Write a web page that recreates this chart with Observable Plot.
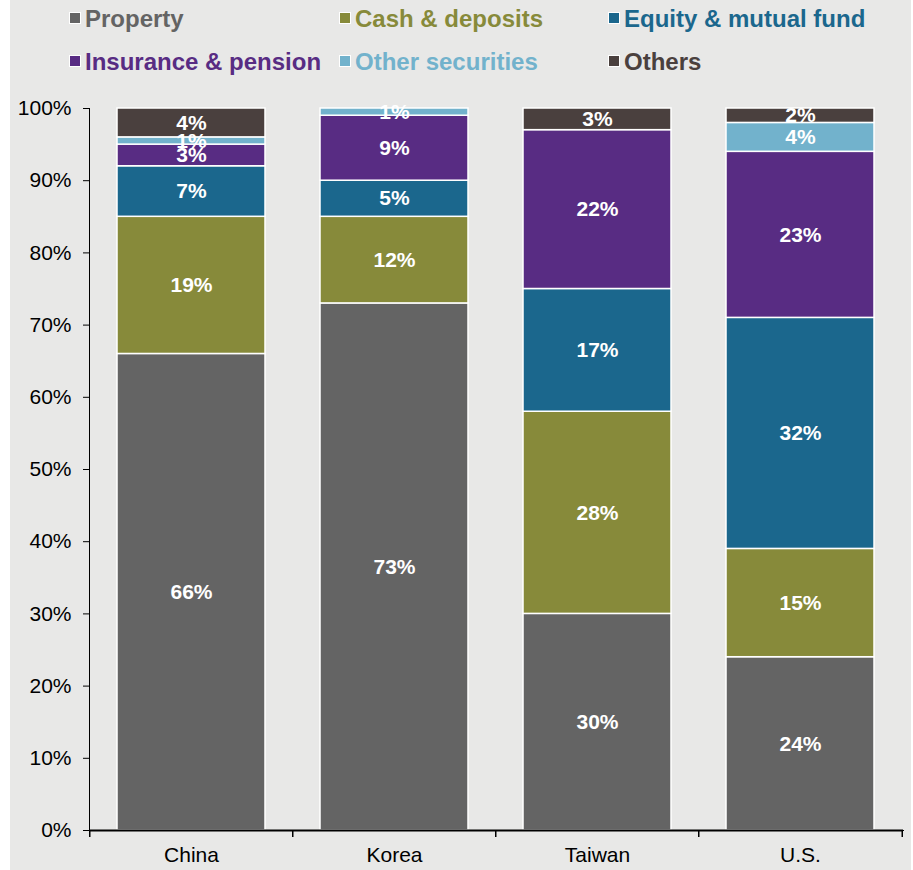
<!DOCTYPE html>
<html><head><meta charset="utf-8">
<script src="https://cdn.jsdelivr.net/npm/d3@7"></script>
<script src="https://cdn.jsdelivr.net/npm/@observablehq/plot@0.6"></script>
<style>
body{margin:0;background:#fff;}
#wrap{position:absolute;left:10px;top:0;width:901px;height:870px;background:#e8e8e7;font-family:"Liberation Sans",Arial,sans-serif;}
#legend{position:relative;height:86px;}
.item{position:absolute;display:flex;align-items:center;font-weight:bold;font-size:24px;line-height:27px;white-space:nowrap;}
.sw{width:10px;height:10px;border:1.5px solid #fff;margin-right:4px;}
#chart svg{display:block;}
</style></head><body><div id="wrap"><div id="legend"></div><div id="chart"></div></div>
<script>
const categories = ["China", "Korea", "Taiwan", "U.S."];
const seriesNames = ["Property", "Cash & deposits", "Equity & mutual fund", "Insurance & pension", "Other securities", "Others"];
const property  = [66, 73, 30, 24];
const cash      = [19, 12, 28, 15];
const equity    = [7, 5, 17, 32];
const insurance = [3, 9, 22, 23];
const otherSec  = [1, 1, 0, 4];
const others    = [4, 0, 3, 2];
const yTicks = [0, 10, 20, 30, 40, 50, 60, 70, 80, 90, 100];
const colors = ["#646464", "#878a3a", "#1b678d", "#582c83", "#72b2cc", "#4a403e"];

const seriesValues = [property, cash, equity, insurance, otherSec, others];
const table = [];
categories.forEach((cat, i) => {
  let cum = 0;
  seriesNames.forEach((s, j) => {
    const v = seriesValues[j][i];
    table.push({cat, series: s, value: v, mid: cum + v / 2});
    cum += v;
  });
});
const nonZero = table.filter(d => d.value > 0);

// legend
const legendPos = [[59, 4.5], [329, 4.5], [598, 4.5], [59, 47.5], [329, 47.5], [598, 47.5]];
const legend = document.getElementById("legend");
seriesNames.forEach((s, j) => {
  const it = document.createElement("div");
  it.className = "item";
  it.style.left = legendPos[j][0] + "px";
  it.style.top = legendPos[j][1] + "px";
  it.style.color = colors[j];
  const sw = document.createElement("span");
  sw.className = "sw";
  sw.style.background = colors[j];
  it.appendChild(sw);
  it.appendChild(document.createTextNode(s));
  legend.appendChild(it);
});

const W = 901, H = 784, mL = 79, mR = 8, mT = 22, mB = 40;
const step = (W - mL - mR) / categories.length;

const chart = Plot.plot({
  width: W, height: H,
  marginTop: mT, marginBottom: mB, marginLeft: mL, marginRight: mR,
  style: {background: "transparent", fontFamily: "'Liberation Sans', Arial, sans-serif", fontSize: "21px", color: "#000", overflow: "visible"},
  x: {domain: categories, paddingInner: 0.27, paddingOuter: 0.135, label: null, tickSize: 0, tickPadding: 17, line: true},
  y: {domain: [0, 100], ticks: yTicks, tickFormat: d => d + "%", label: null, tickSize: 6, tickPadding: 12, line: true},
  color: {domain: seriesNames, range: colors},
  marks: [
    Plot.barY(nonZero, Plot.stackY({x: "cat", y: "value", fill: "series", order: seriesNames, stroke: "white", strokeWidth: 1.5})),
    Plot.text(nonZero, {x: "cat", y: "mid", text: d => d.value + "%", fill: "white", fontWeight: "bold", fontSize: 21}),
    Plot.ruleX(categories, {x: d => d, y1: 0, y2: 0, insetBottom: -7, dx: -step / 2, stroke: "black", strokeWidth: 1.5}),
    Plot.ruleX(categories.slice(-1), {x: d => d, y1: 0, y2: 0, insetBottom: -7, dx: step / 2, stroke: "black", strokeWidth: 1.5}),
    Plot.ruleY([0], {stroke: "black", strokeWidth: 2})
  ]
});
document.getElementById("chart").appendChild(chart);
</script>
</body></html>
